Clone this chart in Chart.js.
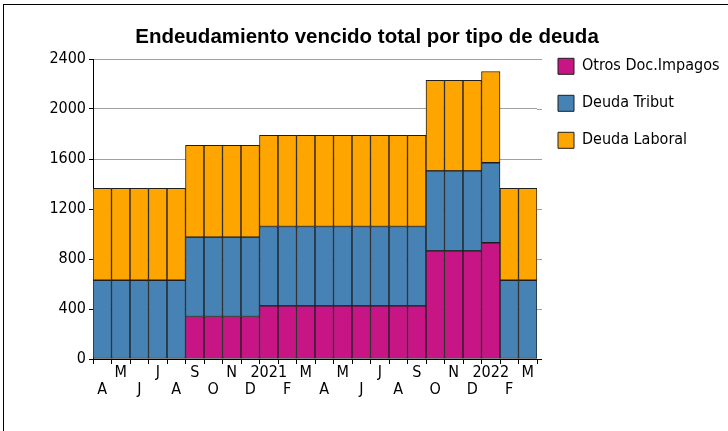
<!DOCTYPE html>
<html><head><meta charset="utf-8">
<script src="https://cdn.jsdelivr.net/npm/chart.js@4.4.1/dist/chart.umd.min.js"></script>
<style>
html,body{margin:0;padding:0;background:#fff;}
#wrap{position:relative;width:728px;height:431px;overflow:hidden;background:#fff;}
#frame{position:absolute;left:3px;top:4px;width:760px;height:460px;border-left:1px solid #000;border-top:1px solid #000;}
#c{position:absolute;left:0;top:0;}
</style></head><body>
<div id="wrap"><div id="frame"></div><canvas id="c" width="728" height="431"></canvas></div>
<script>
const categories = ['2020-04','2020-05','2020-06','2020-07','2020-08','2020-09','2020-10','2020-11','2020-12',
  '2021-01','2021-02','2021-03','2021-04','2021-05','2021-06','2021-07','2021-08','2021-09','2021-10','2021-11','2021-12',
  '2022-01','2022-02','2022-03'];
const tickLabels = ['A','M','J','J','A','S','O','N','D','2021','F','M','A','M','J','J','A','S','O','N','D','2022','F','M'];
const otrosDocImpagos = [null,null,null,null,null,340,340,340,340,425,425,425,425,425,425,425,425,425,865,865,865,930,null,null];
const deudaTribut = [630,630,630,630,630,635,635,635,635,635,635,635,635,635,635,635,635,635,640,640,640,640,630,630];
const deudaLaboral = [735,735,735,735,735,735,735,735,735,730,730,730,730,730,730,730,730,730,725,725,725,730,735,735];
const yTicks = [0,400,800,1200,1600,2000,2400];

const FONT = '"DejaVu Sans Condensed","Liberation Sans Narrow",sans-serif';
const edge = '#1e1e1e';
const LEGEND_W = 191;

// small right-side tick marks (as in the reference), placed with the y scale
const rightTicks = {
  id: 'rightTicks',
  beforeLayout(chart) {
    const lg = chart.legend;
    if (lg && !lg.__fixedW) {
      const orig = lg.fit;
      lg.fit = function () { orig.call(this); this.width = LEGEND_W; };
      lg.__fixedW = true;
    }
  },
  afterDraw(chart) {
    const {ctx, chartArea: a, scales: {y}} = chart;
    ctx.save();
    ctx.lineWidth = 1;
    ctx.strokeStyle = '#a0a0a0';
    y.ticks.forEach(t => {
      if (t.value === 0) return;
      const py = Math.round(y.getPixelForValue(t.value)) + 0.5;
      ctx.beginPath(); ctx.moveTo(a.right, py); ctx.lineTo(a.right + 5, py); ctx.stroke();
    });
    ctx.strokeStyle = '#000';
    const pb = Math.round(y.getPixelForValue(0)) + 0.5;
    ctx.beginPath(); ctx.moveTo(a.right - 1, pb); ctx.lineTo(a.right + 5, pb); ctx.stroke();
    ctx.restore();
  }
};

new Chart(document.getElementById('c'), {
  type: 'bar',
  data: {
    labels: categories,
    datasets: [
      {label: 'Otros Doc.Impagos', data: otrosDocImpagos, backgroundColor: '#C71585', borderColor: edge, borderWidth: 1, borderSkipped: false},
      {label: 'Deuda Tribut', data: deudaTribut, backgroundColor: '#4682B4', borderColor: edge, borderWidth: 1, borderSkipped: false},
      {label: 'Deuda Laboral', data: deudaLaboral, backgroundColor: '#FFA500', borderColor: edge, borderWidth: 1, borderSkipped: false}
    ]
  },
  plugins: [rightTicks],
  options: {
    responsive: false,
    animation: false,
    devicePixelRatio: 1,
    datasets: {bar: {barPercentage: 1, categoryPercentage: 1}},
    layout: {padding: {left: 6, right: 0, top: 0, bottom: 0}},
    plugins: {
      title: {
        display: true,
        text: 'Endeudamiento vencido total por tipo de deuda',
        color: '#000',
        font: {family: '"Liberation Sans",Arial,sans-serif', size: 20.5, weight: 'bold', lineHeight: 1.2},
        padding: {top: 25, bottom: 9.4}
      },
      legend: {
        position: 'right',
        align: 'start',
        fullSize: true,
        title: {display: true, text: ' ', padding: 0, font: {size: 10, lineHeight: 3.73}},
        labels: {boxWidth: 16, boxHeight: 16, padding: 21, color: '#000', font: {family: FONT, size: 16}}
      },
      tooltip: {enabled: false}
    },
    scales: {
      x: {
        stacked: true,
        offset: true,
        grid: {display: true, drawOnChartArea: false, offset: true, tickLength: 5, tickColor: '#000'},
        border: {display: true, color: '#000', width: 1},
        ticks: {
          autoSkip: false, maxRotation: 0, minRotation: 0, padding: 0, color: '#000',
          font: {family: FONT, size: 16, lineHeight: 1.0625},
          callback: (v, i) => (i % 2 === 0 ? ['', tickLabels[i]] : [tickLabels[i]])
        },
        afterFit: (s) => { s.height = 72; }
      },
      y: {
        stacked: true,
        min: 0, max: 2400,
        afterBuildTicks: (s) => { s.ticks = yTicks.map(v => ({value: v})); },
        grid: {color: '#a0a0a0', tickColor: '#000', tickLength: 4},
        border: {display: true, color: '#000', width: 1},
        ticks: {padding: 3, color: '#000', font: {family: FONT, size: 16}, callback: (v) => String(v)},
        afterFit: (s) => { s.width = 87; }
      }
    }
  }
});
</script>
</body></html>
